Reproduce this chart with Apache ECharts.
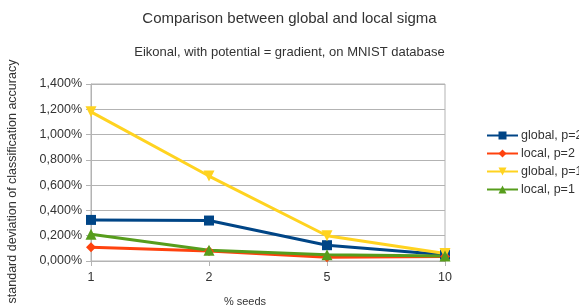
<!DOCTYPE html>
<html>
<head>
<meta charset="utf-8">
<script src="https://cdn.jsdelivr.net/npm/echarts@6/dist/echarts.min.js"></script>
<style>
  html, body { margin: 0; padding: 0; background: #fff; }
  #main { width: 579px; height: 307px; }
</style>
</head>
<body>
<div id="main"></div>
<script>
// % seeds
var seeds = ['1', '2', '5', '10'];
// standard deviation, in %
var globalP2 = [0.325, 0.32, 0.125, 0.05];
var localP2 = [0.108, 0.08, 0.03, 0.035];
var globalP1 = [1.18, 0.672, 0.2, 0.06];
var localP1 = [0.212, 0.085, 0.05, 0.04];

var font = 'Liberation Sans, Arial, sans-serif';

function fmt(v) {
  return v.toFixed(3).replace('.', ',') + '%';
}

function line(name, data, color, symbol, size, rotate) {
  return {
    name: name,
    type: 'line',
    data: data,
    symbol: symbol,
    symbolSize: size,
    symbolRotate: rotate || 0,
    showAllSymbol: true,
    lineStyle: { color: color, width: 3 },
    itemStyle: { color: color },
    emphasis: { disabled: true }
  };
}

var chart = echarts.init(document.getElementById('main'));
chart.setOption({
  animation: false,
  textStyle: { fontFamily: font },
  title: [
    {
      text: 'Comparison between global and local sigma',
      left: 'center', top: 6,
      textStyle: { fontSize: 15, fontWeight: 'normal', color: '#333', fontFamily: font }
    },
    {
      text: 'Eikonal, with potential = gradient, on MNIST database',
      left: 'center', top: 41,
      textStyle: { fontSize: 13, fontWeight: 'normal', color: '#333', fontFamily: font }
    }
  ],
  legend: {
    orient: 'vertical',
    left: 481, top: 124,
    itemWidth: 31, itemHeight: 10,
    itemGap: 5,
    textStyle: { fontSize: 12.5, color: '#333', fontFamily: font, padding: [0, 0, 0, -2] },
    data: ['global, p=2', 'local, p=2', 'global, p=1', 'local, p=1']
  },
  grid: {
    left: 91, right: 134, top: 84, bottom: 46,
    outerBoundsMode: 'none',
    containLabel: false,
    show: true, borderColor: '#b3b3b3', borderWidth: 1
  },
  xAxis: {
    type: 'category',
    data: seeds,
    boundaryGap: false,
    name: '% seeds',
    nameLocation: 'middle',
    nameGap: 35,
    nameTextStyle: { fontSize: 11, color: '#333', padding: [0, 46, 0, 0] },
    axisLine: { lineStyle: { color: '#b3b3b3' } },
    axisTick: { show: true, length: 5, lineStyle: { color: '#b3b3b3' } },
    axisLabel: { fontSize: 12.5, color: '#333', margin: 10 },
    splitLine: { show: false }
  },
  yAxis: {
    type: 'value',
    min: 0, max: 1.4, interval: 0.2,
    name: 'standard deviation of classification accuracy',
    nameLocation: 'middle',
    nameGap: 72,
    nameTextStyle: { fontSize: 12.5, color: '#333', padding: [0, 18, 0, 0] },
    axisLine: { show: true, lineStyle: { color: '#b3b3b3' } },
    axisTick: { show: true, length: 5, lineStyle: { color: '#b3b3b3' } },
    axisLabel: { fontSize: 12.5, color: '#333', margin: 9, formatter: fmt },
    splitLine: { lineStyle: { color: '#b3b3b3' } }
  },
  series: [
    line('global, p=2', globalP2, '#004586', 'rect', 10),
    line('local, p=2', localP2, '#ff420e', 'diamond', 10),
    line('global, p=1', globalP1, '#ffd320', 'triangle', 11, 180),
    line('local, p=1', localP1, '#579d1c', 'triangle', 11)
  ]
});
</script>
</body>
</html>
